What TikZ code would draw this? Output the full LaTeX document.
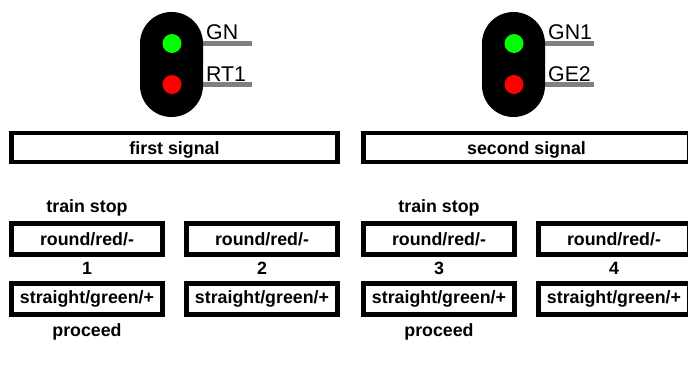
\documentclass[tikz,border=0pt]{standalone}
\usepackage{fontspec}
\setmainfont{Liberation Sans}
\tikzset{
  x=1pt,y=-1pt,
  framebox/.style={draw=black,line width=4.4pt,fill=white,minimum height=31pt,inner sep=0pt,font=\bfseries\fontsize{17.8}{20}\selectfont},
  smallbox/.style={framebox,minimum width=151pt},
  widebox/.style={framebox,minimum width=326pt,minimum height=29pt},
  captext/.style={inner sep=0pt,font=\bfseries\fontsize{17.8}{20}\selectfont},
  barline/.style={draw=black!50,line width=5pt},
  lab/.style={anchor=base west,inner sep=0pt,font=\fontsize{21.3}{24}\selectfont},
  housing/.style={fill=black,rounded corners=31.5pt},
}
\begin{document}
\begin{tikzpicture}
\useasboundingbox (0,0) rectangle (688,378);
\clip (0,0) rectangle (688,378);
\foreach \ox/\a/\b/\n in {0/GN/RT1/a,342/GN1/GE2/b}{
  \begin{scope}[xshift=\ox pt]
    \coordinate (\n top1) at (203,43.5);
    \coordinate (\n top2) at (252,43.5);
    \coordinate (\n bot1) at (203,84.5);
    \coordinate (\n bot2) at (252,84.5);
    \draw[barline] (\n top1) -- (\n top2);
    \draw[barline] (\n bot1) -- (\n bot2);
    \fill[housing] (140,12) rectangle (203,117);
    \fill[green] (172,43.5) circle (9.5);
    \fill[red] (172,84.5) circle (9.5);
    \node[lab] (\n t) at (206,39.5) {\a};
    \node[lab] (\n b) at (206,81) {\b};
  \end{scope}
}
\node[widebox] (w1) at (174.5,147.5) {\raisebox{-7pt}[0pt][0pt]{first signal}};
\node[widebox] (w2) at (526.5,147.5) {\raisebox{-7pt}[0pt][0pt]{second signal}};
\node[captext] (ts1) at (87,208) {train stop};
\node[captext] (ts2) at (439,208) {train stop};
\node[captext] (pr1) at (87,332) {proceed};
\node[captext] (pr2) at (439,332) {proceed};
\foreach \cx/\num/\n in {87/1/a,262/2/b,439/3/c,614/4/d}{
  \node[smallbox] (\n r) at (\cx,239) {round/red/-};
  \node[smallbox] (\n s) at (\cx,299) {straight/green/+};
  \node[captext] (\n n) at (\cx,268) {\num};
}
\end{tikzpicture}
\end{document}
